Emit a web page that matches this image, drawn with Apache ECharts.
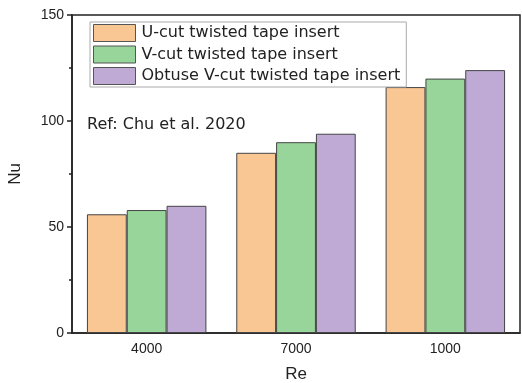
<!DOCTYPE html>
<html>
<head>
<meta charset="utf-8">
<script src="https://cdn.jsdelivr.net/npm/echarts@6/dist/echarts.min.js"></script>
<style>
  html, body { margin: 0; padding: 0; background: #fff; }
  #chart { width: 522px; height: 383px; }
</style>
</head>
<body>
<div id="chart"></div>
<script>
// data
const categories = ['4000', '7000', '1000']
const uCut = [56, 85, 116]
const vCut = [58, 90, 120]
const obtuseVCut = [60, 94, 124]
const seriesNames = [
  'U-cut twisted tape insert',
  'V-cut twisted tape insert',
  'Obtuse V-cut twisted tape insert'
]
const colors = ['#F9C794', '#98D59B', '#BFAAD6']

let myChart = echarts.init(document.getElementById('chart'))
const font = 'Arial, "Liberation Sans", sans-serif'
const wideFont = '"DejaVu Sans", sans-serif'

function barSeries (name, data, color) {
  return {
    name: name,
    type: 'bar',
    data: data,
    barGap: '0%',
    barCategoryGap: '20%',
    itemStyle: {
      color: color,
      borderColor: '#444',
      borderWidth: 1
    }
  }
}

let option = {
  animation: false,
  backgroundColor: '#fff',
  textStyle: { fontFamily: font },
  title: {
    text: 'Ref: Chu et al. 2020',
    left: 82,
    top: 112,
    textStyle: { fontSize: 16, fontWeight: 'normal', color: '#222', fontFamily: wideFont }
  },
  grid: {
    left: 72,
    right: 2,
    top: 15,
    bottom: 50,
    outerBoundsMode: 'none',
    show: true,
    borderColor: '#222',
    borderWidth: 1.5
  },
  legend: {
    orient: 'vertical',
    left: 90,
    top: 22,
    icon: 'rect',
    itemWidth: 42,
    itemHeight: 17,
    itemGap: 3.5,
    padding: [2, 6, 2, 3],
    backgroundColor: '#fff',
    borderColor: '#aaa',
    borderWidth: 1,
    itemStyle: { borderColor: '#555', borderWidth: 1 },
    textStyle: { fontSize: 16, color: '#222', fontFamily: wideFont, padding: [0, 0, 0, 1] },
    data: seriesNames
  },
  xAxis: [
    {
      type: 'category',
      data: categories,
      name: 'Re',
      nameLocation: 'middle',
      nameGap: 33,
      nameTextStyle: { fontSize: 17, color: '#222' },
      axisLine: { lineStyle: { color: '#222', width: 1.5 } },
      axisTick: { alignWithLabel: true, length: 5, lineStyle: { color: '#222', width: 1.5 } },
      axisLabel: { fontSize: 14, color: '#222', margin: 9 }
    },
    {
      type: 'category',
      data: categories,
      position: 'bottom',
      axisLine: { show: false },
      axisTick: { length: 3, lineStyle: { color: '#222', width: 1.5 } },
      axisLabel: { show: false }
    }
  ],
  yAxis: {
    type: 'value',
    min: 0,
    max: 150,
    interval: 50,
    name: 'Nu',
    nameLocation: 'middle',
    nameGap: 48,
    nameTextStyle: { fontSize: 17, color: '#222' },
    axisLine: { show: true, lineStyle: { color: '#222', width: 1.5 } },
    axisTick: { show: true, length: 5, lineStyle: { color: '#222', width: 1.5 } },
    minorTick: { show: true, splitNumber: 2, length: 3, lineStyle: { color: '#222', width: 1.5 } },
    splitLine: { show: false },
    axisLabel: { fontSize: 14, color: '#222', margin: 8 }
  },
  series: [
    barSeries(seriesNames[0], uCut, colors[0]),
    barSeries(seriesNames[1], vCut, colors[1]),
    barSeries(seriesNames[2], obtuseVCut, colors[2])
  ]
}
myChart.setOption(option, true)
</script>
</body>
</html>
